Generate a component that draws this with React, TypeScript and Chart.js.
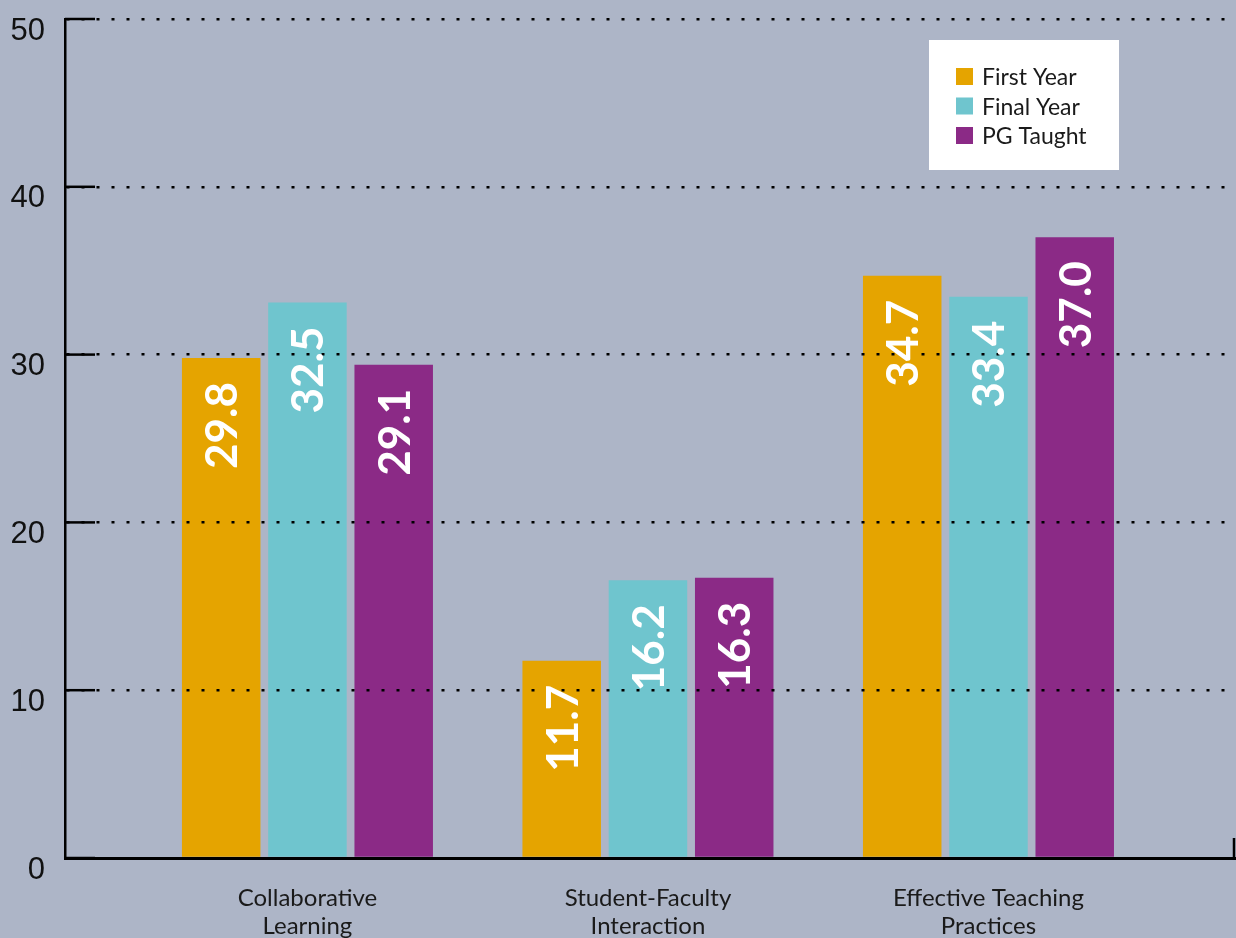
import React, { useEffect, useRef } from 'react';
import { Chart, registerables } from 'chart.js';

Chart.register(...registerables);

// ---- data ----
const categories: string[][] = [
  ['Collaborative', 'Learning'],
  ['Student-Faculty', 'Interaction'],
  ['Effective Teaching', 'Practices'],
];
const seriesNames = ['First Year', 'Final Year', 'PG Taught'];
// bar heights as drawn in the picture
const firstYear = [29.8, 11.75, 34.7];
const finalYear = [33.1, 16.55, 33.45];
const pgTaught = [29.4, 16.7, 37.0];
// value labels printed inside the bars
const firstYearLabels = ['29.8', '11.7', '34.7'];
const finalYearLabels = ['32.5', '16.2', '33.4'];
const pgTaughtLabels = ['29.1', '16.3', '37.0'];
const yTickValues = [0, 10, 20, 30, 40, 50];

const seriesColors = ['#e5a400', '#6fc5ce', '#8b2a86'];
const BG = '#adb5c7';

const allSeries = [firstYear, finalYear, pgTaught];
const allLabels = [firstYearLabels, finalYearLabels, pgTaughtLabels];

const axisExtrasPlugin = {
  id: 'axisExtras',
  afterDraw(chart: any) {
    const { ctx, chartArea } = chart;
    const y = chart.scales.y;
    ctx.save();
    ctx.strokeStyle = '#000';
    ctx.lineWidth = 2.5;
    // short solid tick segments inside the plot
    yTickValues.forEach((v) => {
      const py = y.getPixelForValue(v);
      ctx.beginPath();
      ctx.moveTo(chartArea.left, py);
      ctx.lineTo(chartArea.left + 30, py);
      ctx.stroke();
    });
    // small vertical end tick on the right of the x axis
    ctx.beginPath();
    ctx.moveTo(chartArea.right - 1, chartArea.bottom + 1);
    ctx.lineTo(chartArea.right - 1, chartArea.bottom - 20);
    ctx.stroke();
    ctx.restore();
  },
};

const valueLabelPlugin = {
  id: 'valueLabels',
  afterDraw(chart: any) {
    const { ctx } = chart;
    const size = 44;
    ctx.save();
    ctx.fillStyle = '#ffffff';
    ctx.font = `bold ${size}px Lato, "Open Sans", sans-serif`;
    ctx.textAlign = 'right';
    ctx.textBaseline = 'alphabetic';
    chart.data.datasets.forEach((_: any, di: number) => {
      const meta = chart.getDatasetMeta(di);
      meta.data.forEach((bar: any, i: number) => {
        const txt = allLabels[di][i];
        ctx.save();
        ctx.translate(bar.x, bar.y + 24);
        ctx.rotate(-Math.PI / 2);
        ctx.fillText(txt, 0, size * 0.36);
        ctx.restore();
      });
    });
    ctx.restore();
  },
};

const boxLegendPlugin = {
  id: 'boxLegend',
  afterDraw(chart: any) {
    const { ctx, chartArea } = chart;
    const bx = chartArea.right - 306;
    const by = chartArea.top + 21;
    ctx.save();
    ctx.fillStyle = '#ffffff';
    ctx.fillRect(bx, by, 190, 130);
    ctx.font = '23px Lato, "Open Sans", sans-serif';
    ctx.textBaseline = 'alphabetic';
    ctx.textAlign = 'left';
    chart.data.datasets.forEach((ds: any, i: number) => {
      const sy = by + 28 + i * 29.5;
      ctx.fillStyle = ds.backgroundColor;
      ctx.fillRect(bx + 27, sy, 17, 17);
      ctx.fillStyle = '#1a1a1a';
      ctx.fillText(ds.label, bx + 53, sy + 17);
    });
    ctx.restore();
  },
};

export default function App() {
  const canvasRef = useRef<HTMLCanvasElement | null>(null);

  useEffect(() => {
    document.body.style.margin = '0';
    document.body.style.background = BG;
    const canvas = canvasRef.current;
    if (!canvas) return;
    const chart = new Chart(canvas, {
      type: 'bar',
      data: {
        datasets: allSeries.map((vals, si) => ({
          label: seriesNames[si],
          data: vals.map((v, i) => ({ x: i, y: v })),
          backgroundColor: seriesColors[si],
          borderWidth: 0,
          categoryPercentage: 0.76,
          barPercentage: 0.91,
        })),
      },
      options: {
        animation: false,
        responsive: false,
        devicePixelRatio: 1,
        layout: { padding: { top: 19, right: 1, left: 0, bottom: 0 } },
        plugins: {
          legend: { display: false },
          tooltip: { enabled: false },
        },
        scales: {
          x: {
            type: 'linear',
            offset: false,
            min: -0.712,
            max: 2.724,
            afterBuildTicks: (s: any) => {
              s.ticks = categories.map((_, i) => ({ value: i }));
            },
            afterFit: (s: any) => {
              s.height = 80;
              s.paddingLeft = 0;
              s.paddingRight = 0;
            },
            ticks: {
              autoSkip: false,
              maxRotation: 0,
              padding: 26,
              color: '#1a1a1a',
              font: { family: 'Lato, "Open Sans", sans-serif', size: 24, lineHeight: 1.17 },
              callback: (v: any) => categories[Math.round(Number(v))] ?? '',
            },
            grid: { display: false, drawTicks: false },
            border: { display: true, color: '#000', width: 3, z: 1 },
          },
          y: {
            type: 'linear',
            min: 0,
            max: 50,
            afterBuildTicks: (s: any) => {
              s.ticks = yTickValues.map((v) => ({ value: v }));
            },
            afterFit: (s: any) => {
              s.width = 65;
              s.paddingTop = 0;
              s.paddingBottom = 0;
            },
            ticks: {
              padding: 20,
              labelOffset: 12,
              color: '#111',
              font: { family: '"Liberation Sans", Arial, sans-serif', size: 31 },
            },
            grid: { color: '#000', lineWidth: 2.5, drawTicks: false, z: 1 },
            border: { display: true, color: '#000', width: 2.5, dash: [3, 12], z: 1 },
          },
        },
      },
      plugins: [axisExtrasPlugin, valueLabelPlugin, boxLegendPlugin],
    } as any);
    return () => chart.destroy();
  }, []);

  return (
    <div style={{ width: 1236, height: 938, background: BG }}>
      <canvas ref={canvasRef} width={1236} height={938} style={{ display: 'block' }} />
    </div>
  );
}
